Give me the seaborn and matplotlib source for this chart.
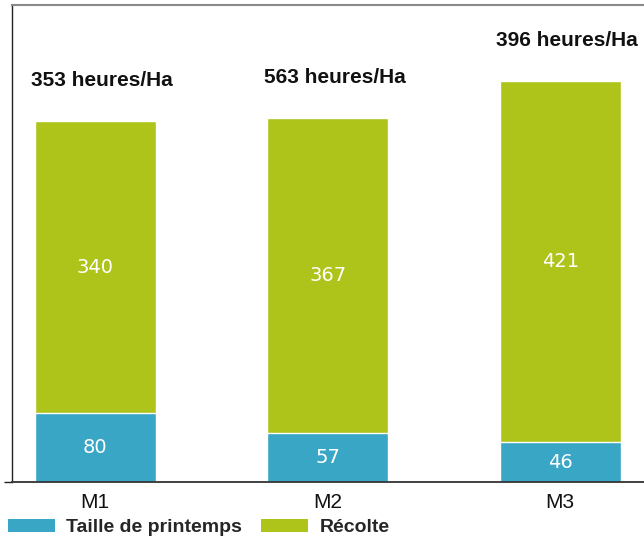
import matplotlib
matplotlib.use("Agg")
import matplotlib.pyplot as plt
from matplotlib.patches import Patch
import seaborn as sns
import pandas as pd

# Working time per method (hours/ha)
methods = ["M1", "M2", "M3"]
taille = [80, 57, 46]          # Taille de printemps
recolte = [340, 367, 421]      # Récolte
total_labels = ["353 heures/Ha", "563 heures/Ha", "396 heures/Ha"]

blue = "#3AA6C6"
green = "#AEC41A"

sns.set_theme(style="white")
plt.rcParams["font.family"] = ["Liberation Sans", "DejaVu Sans"]

df = pd.DataFrame({
    "method": methods,
    "taille": taille,
    "recolte": recolte,
})
df["total"] = df["taille"] + df["recolte"]

fig = plt.figure(figsize=(6.44, 5.42), dpi=100)
ax = fig.add_axes([12 / 644, 60 / 542, 632 / 644, 477 / 542])

# Stacked bars: full height in green, spring pruning in blue on top of it
sns.barplot(data=df, x="method", y="total", color=green, width=0.52,
            saturation=1, ax=ax)
sns.barplot(data=df, x="method", y="taille", color=blue, width=0.52,
            saturation=1, ax=ax)

ax.set_xlim(-0.357, 2.36)
ax.set_ylim(0, 555)
ax.set_xlabel("")
ax.set_ylabel("")

# Segment values
for i, (t, r) in enumerate(zip(taille, recolte)):
    ax.text(i, t / 2, str(t), ha="center", va="center", color="white",
            fontsize=14, family="DejaVu Sans")
    ax.text(i, t + r / 2, str(r), ha="center", va="center", color="white",
            fontsize=14, family="DejaVu Sans")

# Totals above the bars
for i, (t, r, lab) in enumerate(zip(taille, recolte, total_labels)):
    ax.annotate(lab, xy=(i, t + r), xytext=(5, 22), textcoords="offset points",
                ha="center", va="bottom", fontsize=15, fontweight="bold",
                color="#111111")

# Frame: left and bottom axis lines, grey line across the top
ax.spines["right"].set_visible(False)
ax.spines["left"].set_color("#222222")
ax.spines["left"].set_linewidth(1.0)
ax.spines["bottom"].set_color("#333333")
ax.spines["bottom"].set_linewidth(1.3)
ax.spines["top"].set_color("#8a8a8a")
ax.spines["top"].set_linewidth(1.5)

ax.set_yticks([0])
ax.set_yticklabels([""])
ax.tick_params(axis="y", left=True, length=6, width=1, color="#222222",
               direction="out")
ax.tick_params(axis="x", bottom=False, length=0, labelsize=15, pad=8,
               labelcolor="#111111")

handles = [Patch(facecolor=blue, edgecolor="none"),
           Patch(facecolor=green, edgecolor="none")]
fig.legend(handles, ["Taille de printemps", "Récolte"], loc="lower left",
           bbox_to_anchor=(-0.015, -0.022), ncol=2, frameon=False,
           prop={"weight": "bold", "size": 14}, handlelength=2.4,
           handleheight=0.7, handletextpad=0.6, columnspacing=1.0)

fig.savefig("out.png", dpi=100, facecolor="white")
